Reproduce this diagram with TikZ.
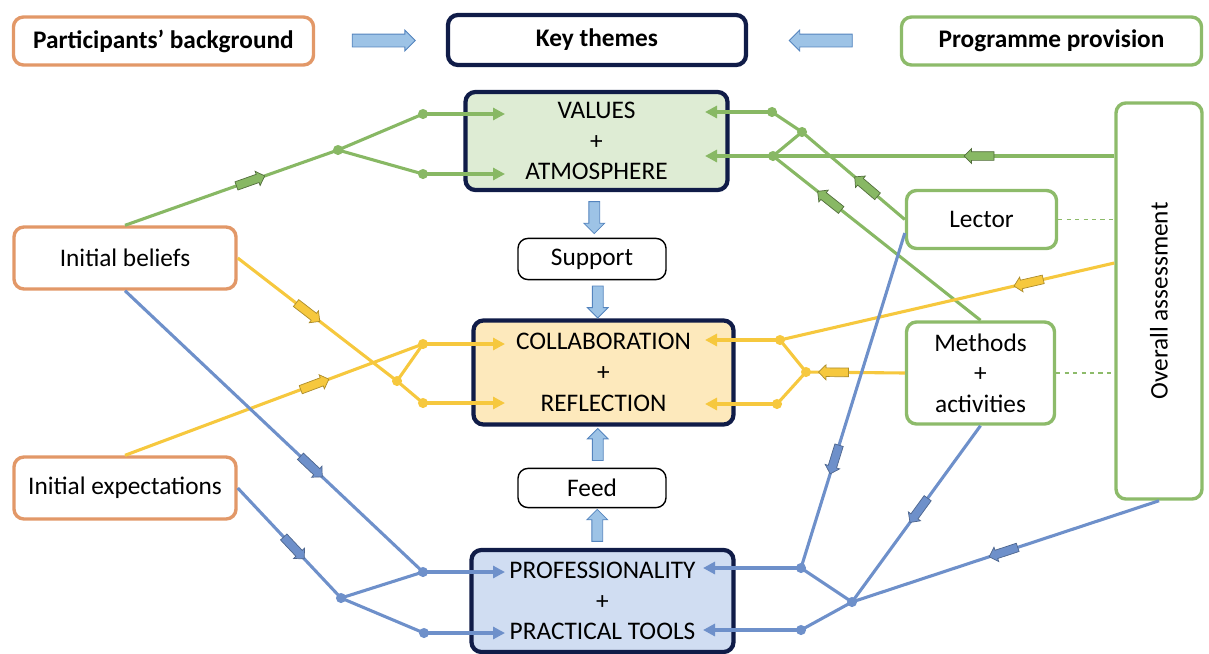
\documentclass[tikz,border=0pt]{standalone}
\usepackage{fontspec}
\setmainfont{Carlito}
\usetikzlibrary{arrows.meta,shapes.arrows,calc}

\definecolor{borange}{RGB}{226,152,104}
\definecolor{bgreen}{RGB}{141,187,106}
\definecolor{bnavy}{RGB}{16,28,72}
\definecolor{lgreen}{RGB}{136,184,100}
\definecolor{lyellow}{RGB}{246,200,62}
\definecolor{lblue}{RGB}{110,144,202}
\definecolor{fgreen}{RGB}{222,236,212}
\definecolor{forange}{RGB}{253,233,188}
\definecolor{fblue}{RGB}{208,221,242}
\definecolor{afill}{RGB}{157,195,230}
\definecolor{aedge}{RGB}{84,132,190}

\tikzset{
  box/.style={draw, rounded corners=0.25cm, line width=2.4pt, fill=white, align=center,
    font=\fontsize{18}{21.8}\selectfont, inner sep=0pt},
  headbox/.style={box, font=\fontsize{18}{21}\selectfont\bfseries},
  themebox/.style={box, draw=bnavy, line width=3pt},
  smallbox/.style={box, draw=black, line width=1pt},
  gline/.style={draw=lgreen, line width=2.2pt},
  yline/.style={draw=lyellow, line width=2.2pt},
  bline/.style={draw=lblue, line width=2.2pt},
  tip/.style={-{Triangle[length=0.3cm,width=0.3cm]}},
  flow/.style={single arrow, draw, line width=0.5pt, minimum height=0.75cm, inner xsep=0pt,
    inner ysep=0.1cm, single arrow head extend=0.08cm, sloped, allow upside down},
  gflow/.style={flow, fill=lgreen, draw=lgreen!60!black},
  yflow/.style={flow, fill=lyellow, draw=lyellow!70!black},
  bflow/.style={flow, fill=lblue, draw=lblue!70!black},
  bigflow/.style={single arrow, draw=aedge, fill=afill, line width=0.6pt, inner xsep=0pt,
    minimum height=0.8cm, inner ysep=0.125cm, single arrow head extend=0.125cm},
}

\begin{document}
\begin{tikzpicture}[x=0.025cm, y=-0.025cm]
  \useasboundingbox (0,0) rectangle (1209,653);

  % Cabecera
  \node[headbox, draw=borange, minimum width=7.5cm, minimum height=1.2cm] (part) at (163.5,41) {Participants’ background};
  \node[headbox, draw=bnavy, line width=3pt, minimum width=7.45cm, minimum height=1.25cm] (key) at (597,40) {Key themes};
  \node[headbox, draw=bgreen, minimum width=7.5cm, minimum height=1.2cm] (prog) at (1051.5,41) {Programme provision};
  \node[bigflow, minimum height=1.575cm, inner ysep=0.15cm, single arrow head extend=0.1cm] at ($(part.east)!0.5!(key.west)$) {};
  \node[bigflow, minimum height=1.575cm, inner ysep=0.15cm, single arrow head extend=0.1cm, rotate=180] at ($(key.east)!0.5!(prog.west)$) {};

  % Temas centrales
  \node[themebox, fill=fgreen, minimum width=6.55cm, minimum height=2.45cm] (val) at (596.5,141) {VALUES\\+\\ATMOSPHERE};
  \node[smallbox, minimum width=3.7cm, minimum height=1.03cm] (sup) at (592,259) {Support};
  \node[themebox, fill=forange, minimum width=6.5cm, minimum height=2.6cm] (col) at (603.5,372.5) {COLLABORATION\\+\\REFLECTION};
  \node[smallbox, minimum width=3.7cm, minimum height=0.98cm] (feed) at (592,488) {Feed};
  \node[themebox, fill=fblue, minimum width=6.55cm, minimum height=2.55cm] (prof) at (602.5,601) {PROFESSIONALITY\\+\\PRACTICAL TOOLS};
  \node[bigflow, rotate=-90] at ($(val.south)!0.5!(sup.north)$) {};
  \node[bigflow, rotate=-90] at ($(sup.south)!0.5!(col.north)$) {};
  \node[bigflow, rotate=90] at ($(col.south)!0.5!(feed.north)$) {};
  \node[bigflow, rotate=90] at ($(feed.south)!0.5!(prof.north)$) {};

  % Trasfondo y provision
  \node[box, draw=borange, minimum width=5.55cm, minimum height=1.55cm] (bel) at (125,258) {Initial beliefs};
  \node[box, draw=borange, minimum width=5.55cm, minimum height=1.55cm] (exp) at (125,488) {Initial expectations};
  \node[box, draw=bgreen, minimum width=3.75cm, minimum height=1.45cm] (lec) at (981.5,219.5) {Lector};
  \node[box, draw=bgreen, minimum width=3.7cm, minimum height=2.55cm] (meth) at (980.5,373) {Methods\\+\\activities};
  \node[box, draw=bgreen, minimum width=2.15cm, minimum height=9.9cm] (over) at (1159,301) {};
  \node[rotate=90, font=\fontsize{18}{21}\selectfont] at (over) {Overall assessment};

  % Puntos de union
  \coordinate (gj) at (338,150);  \coordinate (gd1) at (423,114); \coordinate (gd2) at (423,174);
  \coordinate (gd3) at (772,112); \coordinate (gj2) at (802,132); \coordinate (gd4) at (773,156);
  \coordinate (yj) at (397,381);  \coordinate (yd1) at (423,344); \coordinate (yd2) at (423,403);
  \coordinate (yd3) at (780,340); \coordinate (yj2) at (806,372); \coordinate (yd4) at (777,404);
  \coordinate (bj) at (341,598);  \coordinate (bd1) at (423,572); \coordinate (bd2) at (424,633);
  \coordinate (bd3) at (801,568); \coordinate (bj2) at (852,602); \coordinate (bd4) at (801,630);

  % Verde
  \draw[gline] (bel.north) -- node[pos=.58, gflow]{} (gj);
  \draw[gline] (gd1) -- (gj) -- (gd2);
  \draw[gline, tip] (gd1) -- ++(82,0);
  \draw[gline, tip] (gd2) -- ++(82,0);
  \draw[gline] (lec.west) -- node[pos=.36, gflow]{} (gj2);
  \draw[gline] (gd3) -- (gj2) -- (gd4);
  \draw[gline] (meth.north) -- node[pos=.72, gflow]{} (gd4);
  \draw[gline] (gd4 -| over.west) -- node[pos=.39, gflow]{} (gd4);
  \draw[gline, tip] (gd3) -- ++(-67,0);
  \draw[gline, tip] (gd4) -- ++(-68,0);
  \draw[draw=bgreen, line width=1pt, dashed] (lec.east) -- (lec.east -| over.west);
  \draw[draw=bgreen, line width=1pt, dashed] (meth.east) -- (meth.east -| over.west);

  % Amarillo
  \draw[yline] (bel.east) -- node[pos=.43, yflow]{} (yj);
  \draw[yline] (yj) -- (yd2);
  \draw[yline] (yj) -- (yd1);
  \draw[yline] (exp.north) -- node[pos=.63, yflow]{} (yd1);
  \draw[yline, tip] (yd1) -- ++(82,0);
  \draw[yline, tip] (yd2) -- ++(82,0);
  \draw[yline] ($(over.west)+(0,-38)$) -- node[pos=.25, yflow]{} (yd3);
  \draw[yline] (meth.west) -- node[pos=.7, yflow]{} (yj2);
  \draw[yline] (yd3) -- (yj2) -- (yd4);
  \draw[yline, tip] (yd3) -- ++(-75,0);
  \draw[yline, tip] (yd4) -- ++(-72,0);

  % Azul
  \draw[bline] (bel.south) -- node[pos=.62, bflow]{} (bd1);
  \draw[bline] (exp.east) -- node[pos=.53, bflow]{} (bj);
  \draw[bline] (bd1) -- (bj) -- (bd2);
  \draw[bline, tip] (bd1) -- ++(82,0);
  \draw[bline, tip] (bd2) -- ++(81,0);
  \draw[bline] (lec.190) -- node[pos=.67, bflow]{} (bd3);
  \draw[bline] (bd3) -- (bj2) -- (bd4);
  \draw[bline] (meth.south) -- node[pos=.47, bflow]{} (bj2);
  \draw[bline] (over.south) -- node[pos=.5, bflow]{} (bj2);
  \draw[bline, tip] (bd3) -- ++(-98,0);
  \draw[bline, tip] (bd4) -- ++(-98,0);

  % Puntos
  \foreach \p in {gj,gd1,gd2,gd3,gj2,gd4} \fill[lgreen] (\p) circle[radius=3.6pt];
  \foreach \p in {yj,yd1,yd2,yd3,yj2,yd4} \fill[lyellow] (\p) circle[radius=3.6pt];
  \foreach \p in {bj,bd1,bd2,bd3,bj2,bd4} \fill[lblue] (\p) circle[radius=3.6pt];
\end{tikzpicture}
\end{document}
